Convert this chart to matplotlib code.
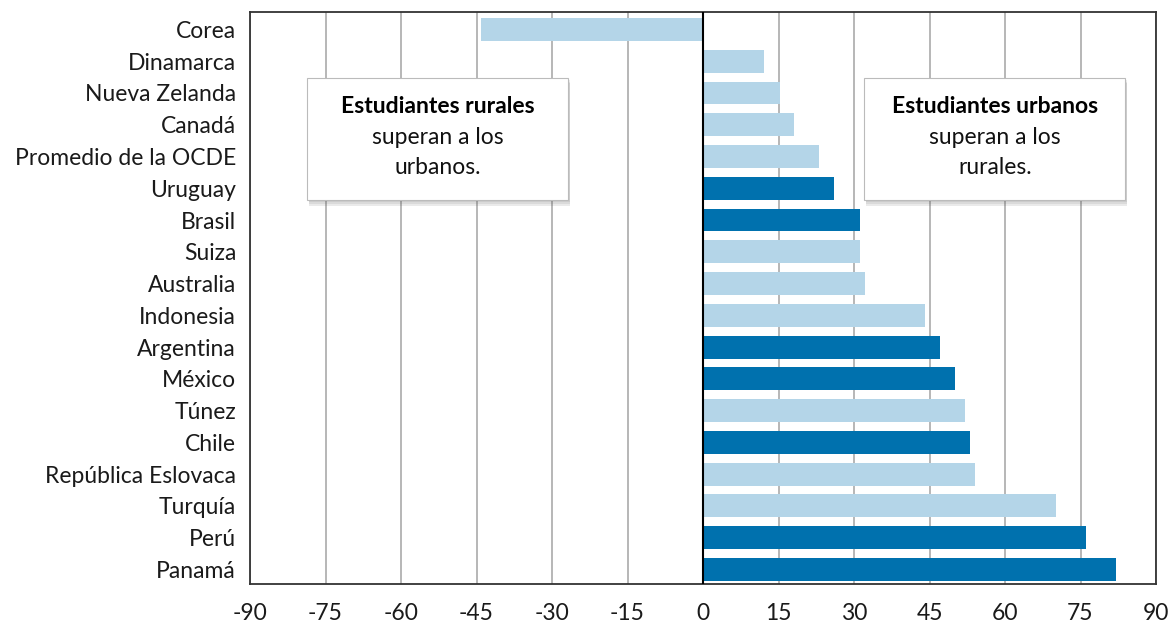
import numpy as np
import matplotlib
matplotlib.use('Agg')
import matplotlib.pyplot as plt
from matplotlib.patches import Rectangle

plt.rcParams['font.family'] = ['Lato', 'DejaVu Sans']

countries = ['Corea', 'Dinamarca', 'Nueva Zelanda', 'Canadá', 'Promedio de la OCDE',
             'Uruguay', 'Brasil', 'Suiza', 'Australia', 'Indonesia', 'Argentina',
             'México', 'Túnez', 'Chile', 'República Eslovaca', 'Turquía', 'Perú', 'Panamá']
values = [-44.1, 12.2, 15.2, 18.1, 23.1, 26.1, 31.2, 31.2, 32.2, 44.1, 47.1,
          50.1, 52.0, 53.0, 54.0, 70.1, 76.1, 82.0]
# highlighted (dark) bars = Latin American countries
highlight = [False, False, False, False, False, True, True, False, False, False, True,
             True, False, True, False, False, True, True]
xticks = np.arange(-90, 91, 15)

dark = '#0071AE'
light = '#B4D5E8'

fig = plt.figure(figsize=(11.71, 6.29), dpi=100)
ax = fig.add_axes([250/1171, 1-584/629, 906/1171, 572/629])

ypos = np.arange(len(countries))
colors = [dark if h else light for h in highlight]
ax.barh(ypos, values, height=0.72, color=colors, zorder=3)

ax.set_xlim(-90, 90)
ax.set_ylim(len(countries) - 1 + 0.46, -0.55)
ax.set_xticks(xticks)
ax.set_xticklabels([str(t) for t in xticks], fontsize=16.5, color='#1a1a1a')
ax.set_yticks(ypos)
ax.set_yticklabels(countries, fontsize=16.5, color='#1a1a1a')
ax.tick_params(axis='y', length=0, pad=10)
ax.tick_params(axis='x', length=0, pad=14)
ax.xaxis.grid(True, color='#aaaaaa', linewidth=1.2, zorder=0)
ax.axvline(0, color='black', linewidth=1.5, zorder=4)
for s in ax.spines.values():
    s.set_color('#333333')
    s.set_linewidth(1.3)


def note_box(x0, x1, bold, lines):
    y0, y1 = 0.671, 0.885
    # soft shadow
    for k, a in enumerate([0.10, 0.10, 0.12]):
        off = 0.004 + k * 0.003
        ax.add_patch(Rectangle((x0 + 0.002, y0 - off), x1 - x0, y1 - y0,
                               transform=ax.transAxes, facecolor='#555555',
                               edgecolor='none', alpha=a, zorder=5))
    ax.add_patch(Rectangle((x0, y0), x1 - x0, y1 - y0, transform=ax.transAxes,
                           facecolor='white', edgecolor='#bbbbbb', linewidth=0.8,
                           zorder=6))
    xc = (x0 + x1) / 2
    ax.text(xc, 0.834, bold, transform=ax.transAxes, ha='center', va='center',
            fontsize=16.5, fontweight='bold', color='black', zorder=7)
    for i, ln in enumerate(lines):
        ax.text(xc, 0.781 - i * 0.052, ln, transform=ax.transAxes, ha='center',
                va='center', fontsize=16.5, color='#111111', zorder=7)


note_box(0.063, 0.351, 'Estudiantes rurales', ['superan a los', 'urbanos.'])
note_box(0.678, 0.966, 'Estudiantes urbanos', ['superan a los', 'rurales.'])

fig.savefig('out.png', dpi=100)
